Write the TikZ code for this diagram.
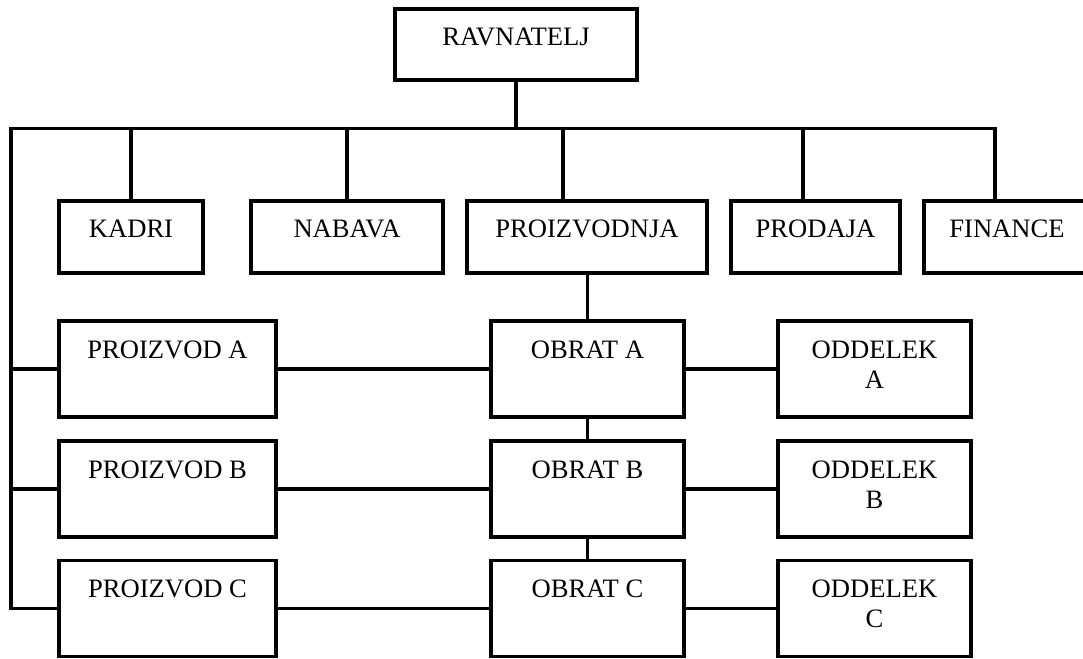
\documentclass[tikz,border=0pt]{standalone}
\usepackage{fontspec}
\setmainfont{Liberation Serif}
\begin{document}
\begin{tikzpicture}[x=1pt,y=-1pt,
  box/.style={draw=black, line width=3.8pt, rectangle, inner sep=0pt, outer sep=0pt, fill=white},
  lbl/.style={anchor=base, inner sep=0pt, outer sep=0pt, align=center,
              font=\fontsize{26.6}{30}\selectfont},
  wire/.style={draw=black, line width=3.8pt, line join=miter},
  rowbox/.style={box, minimum height=96pt}]
\useasboundingbox (0,0) rectangle (1083,658);
\clip (0,0) rectangle (1083,658);

% director
\node[box, minimum width=242pt, minimum height=71pt] (rav) at (516,44.5) {};

% departments
\node[box, minimum width=144pt, minimum height=72pt] (kadri)   at (131,237)    {};
\node[box, minimum width=192pt, minimum height=72pt] (nabava)  at (347,237)    {};
\node[box, minimum width=240pt, minimum height=72pt] (proizv)  at (587,237)    {};
\node[box, minimum width=169pt, minimum height=72pt] (prodaja) at (815.5,237)  {};
\node[box, minimum width=166pt, minimum height=72pt] (finance) at (1007,237)   {};

% products, plants, sections
\node[rowbox, minimum width=217pt] (pa) at (167.5,369)   {};
\node[rowbox, minimum width=217pt] (pb) at (167.5,489)   {};
\node[rowbox, minimum width=217pt] (pc) at (167.5,608.5) {};
\node[rowbox, minimum width=193pt] (oa) at (587.5,369)   {};
\node[rowbox, minimum width=193pt] (ob) at (587.5,489)   {};
\node[rowbox, minimum width=193pt] (oc) at (587.5,608.5) {};
\node[rowbox, minimum width=193pt] (da) at (874.5,369)   {};
\node[rowbox, minimum width=193pt] (db) at (874.5,489)   {};
\node[rowbox, minimum width=193pt] (dc) at (874.5,608.5) {};

% labels, set near the top of each box
\node[lbl] (rav-t)     at ([yshift=-36.5pt]rav.north)     {RAVNATELJ};
\node[lbl] (kadri-t)   at ([yshift=-36.5pt]kadri.north)   {KADRI};
\node[lbl] (nabava-t)  at ([yshift=-36.5pt]nabava.north)  {NABAVA};
\node[lbl] (proizv-t)  at ([yshift=-36.5pt]proizv.north)  {PROIZVODNJA};
\node[lbl] (prodaja-t) at ([yshift=-36.5pt]prodaja.north) {PRODAJA};
\node[lbl] (finance-t) at ([yshift=-36.5pt]finance.north) {FINANCE};
\node[lbl] (pa-t) at ([yshift=-37pt]pa.north) {PROIZVOD A};
\node[lbl] (pb-t) at ([yshift=-37pt]pb.north) {PROIZVOD B};
\node[lbl] (pc-t) at ([yshift=-37pt]pc.north) {PROIZVOD C};
\node[lbl] (oa-t) at ([yshift=-37pt]oa.north) {OBRAT A};
\node[lbl] (ob-t) at ([yshift=-37pt]ob.north) {OBRAT B};
\node[lbl] (oc-t) at ([yshift=-37pt]oc.north) {OBRAT C};
% two-line labels: the base anchor sits on the second line
\node[lbl] (da-t) at ([yshift=-67pt]da.north) {ODDELEK\\A};
\node[lbl] (db-t) at ([yshift=-67pt]db.north) {ODDELEK\\B};
\node[lbl] (dc-t) at ([yshift=-67pt]dc.north) {ODDELEK\\C};

% bus under the director
\coordinate (busL) at (11,128.5);
\coordinate (busR) at (995,128.5);
\coordinate (busM) at (516,128.5);
\draw[wire] (rav.south) -- (busM);
\draw[wire] (finance.north -| busR) -- (busR) -- (busL) |- (pc.west);
\draw[wire] (kadri.north)   -- (kadri.north |- busL);
\draw[wire] (nabava.north)  -- (nabava.north |- busL);
\draw[wire] (proizv.north -| 563,0)  -- (563,128.5);
\draw[wire] (prodaja.north -| 803,0) -- (803,128.5);
\draw[wire] (busL |- pa.west) -- (pa.west);
\draw[wire] (busL |- pb.west) -- (pb.west);

% production chain
\draw[wire] (proizv.south -| oa.north) -- (oa.north);
\draw[wire] (oa.south) -- (ob.north);
\draw[wire] (ob.south) -- (oc.north);
\draw[wire] (pa.east) -- (oa.west);
\draw[wire] (oa.east) -- (da.west);
\draw[wire] (pb.east) -- (ob.west);
\draw[wire] (ob.east) -- (db.west);
\draw[wire] (pc.east) -- (oc.west);
\draw[wire] (oc.east) -- (dc.west);
\end{tikzpicture}
\end{document}
